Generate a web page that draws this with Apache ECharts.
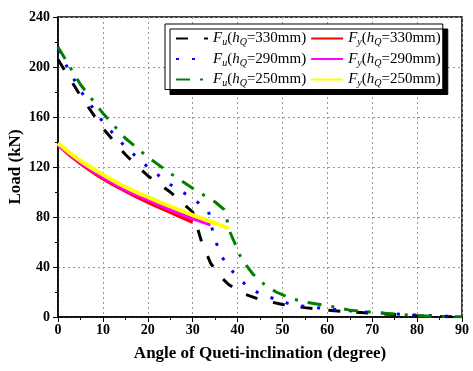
<!DOCTYPE html>
<html>
<head>
<meta charset="utf-8">
<script src="https://cdn.jsdelivr.net/npm/echarts@6/dist/echarts.min.js"></script>
<style>
  html, body { margin: 0; padding: 0; background: #fff; }
  #main { width: 473px; height: 371px; }
</style>
</head>
<body>
<div id="main"></div>
<script>
// depth of the section, mm
var heights = [330, 290, 250];

// Fu : ultimate load (kN) vs angle (degree)
var fuAngles330 = [0, 5, 10, 15, 20, 25, 30, 31, 32, 34, 36, 38, 41, 45, 50, 55, 60, 65, 70, 75, 80, 85, 90];
var fuLoads330  = [206, 177, 151, 130, 113, 100, 84, 72, 60, 43, 33, 26, 19, 14, 10, 7.5, 5.5, 4, 3, 2, 1, 0.5, 0];

var fuAngles290 = [0, 5, 10, 15, 20, 25, 30, 33.5, 34.5, 35.5, 36.5, 39, 42, 45, 49, 52, 55, 60, 65, 70, 75, 80, 85, 90];
var fuLoads290  = [213, 181, 156, 136, 120, 106, 95, 85, 68, 57, 48, 36, 25, 18.5, 13.5, 10, 8.5, 6.5, 5, 3.5, 2.5, 1.5, 0.8, 0.3];

var fuAngles250 = [0, 5, 10, 15, 20, 25, 30, 35, 37, 37.7, 38.3, 39.4, 40.4, 41.8, 43.5, 46, 48.6, 51.7, 55, 60, 65, 70, 75, 80, 85, 90];
var fuLoads250  = [216, 186, 163, 143, 128, 115, 103, 92, 86, 77, 68, 59, 50, 42, 34, 26, 20, 15, 12, 9, 5.5, 3.8, 2.5, 1, 0.5, 0.2];

// Fy : yield load (kN) vs angle (degree)
var fyAngles330 = [0, 5, 10, 15, 20, 25, 30];
var fyLoads330  = [138, 123, 111, 101, 92, 84, 76];

var fyAngles290 = [0, 5, 10, 15, 20, 25, 30, 34];
var fyLoads290  = [138, 124, 112, 102, 94, 86, 79, 74];

var fyAngles250 = [0, 5, 10, 15, 20, 25, 30, 35, 38];
var fyLoads250  = [139, 125, 114, 104, 96, 88.5, 81.5, 75, 71];

var xTicks = { min: 0, max: 90, interval: 10 };
var yTicks = { min: 0, max: 240, interval: 40 };

function pairs(xs, ys) {
    return xs.map(function (x, i) { return [x, ys[i]]; });
}

var serif = 'Liberation Serif';

function fuSeries(h, xs, ys, color, dash) {
    return {
        name: 'Fu' + h, type: 'line', symbol: 'none', smooth: false,
        data: pairs(xs, ys),
        lineStyle: { color: color, width: 3, type: dash },
        itemStyle: { color: color }
    };
}
function fySeries(h, xs, ys, color) {
    return {
        name: 'Fy' + h, type: 'line', symbol: 'none', smooth: true,
        data: pairs(xs, ys),
        lineStyle: { color: color, width: 4 },
        itemStyle: { color: color }
    };
}

var myChart = echarts.init(document.getElementById('main'));

var axisCommon = {
    type: 'value',
    axisLine: { show: true, lineStyle: { color: '#000', width: 1.5 } },
    axisTick: { show: true, length: 5, lineStyle: { color: '#000', width: 1 } },
    minorTick: { show: true, splitNumber: 2, length: 3, lineStyle: { color: '#000', width: 1 } },
    splitLine: { show: true, lineStyle: { color: '#999', width: 1, type: [2, 3] } },
    axisLabel: { color: '#000', fontFamily: serif, fontWeight: 'bold', fontSize: 14 },
    nameTextStyle: { color: '#000', fontFamily: serif, fontWeight: 'bold', fontSize: 17 },
    nameLocation: 'middle',
    nameMoveOverlap: false
};

myChart.setOption({
    animation: false,
    grid: {
        left: 58, right: 11, top: 17, bottom: 54,
        show: true, borderColor: '#000', borderWidth: 1.5,
        outerBoundsMode: 'none'
    },
    legend: {
        orient: 'vertical',
        left: 165, top: 24,
        height: 62,
        padding: [7, 2, 1, 10],
        itemGap: 4,
        itemWidth: 32, itemHeight: 14,
        backgroundColor: '#fff',
        borderColor: '#000', borderWidth: 1,
        shadowColor: '#000', shadowBlur: 0, shadowOffsetX: 5, shadowOffsetY: 5,
        itemStyle: { opacity: 0 },
        data: ['Fu330', 'Fu290', 'Fu250', 'Fy330', 'Fy290', 'Fy250'],
        formatter: function (name) {
            var sub = name.charAt(1), h = name.slice(2);
            return '{it|F}{sub|' + sub + '}{rm|(}{it|h}{sub|Q}{rm|=' + h + 'mm)}';
        },
        textStyle: {
            color: '#000', fontFamily: serif, fontSize: 15,
            rich: {
                it: { fontFamily: serif, fontSize: 15, fontStyle: 'italic', color: '#000' },
                rm: { fontFamily: serif, fontSize: 15, color: '#000' },
                sub: { fontFamily: serif, fontSize: 10, fontStyle: 'italic', color: '#000', padding: [8, 0, 0, 0] }
            }
        }
    },
    xAxis: Object.assign({}, axisCommon, {
        min: xTicks.min, max: xTicks.max, interval: xTicks.interval,
        name: 'Angle of Queti-inclination (degree)', nameGap: 28,
        axisLabel: Object.assign({}, axisCommon.axisLabel, { margin: 6 })
    }),
    yAxis: Object.assign({}, axisCommon, {
        min: yTicks.min, max: yTicks.max, interval: yTicks.interval,
        name: 'Load (kN)', nameGap: 34,
        axisLabel: Object.assign({}, axisCommon.axisLabel, { margin: 8 })
    }),
    series: [
        fuSeries(heights[0], fuAngles330, fuLoads330, '#000000', [12, 16]),
        fuSeries(heights[1], fuAngles290, fuLoads290, '#0000ff', [3, 13]),
        fuSeries(heights[2], fuAngles250, fuLoads250, '#008000', [14, 10, 3, 10]),
        fySeries(heights[0], fyAngles330, fyLoads330, '#ff0000'),
        fySeries(heights[1], fyAngles290, fyLoads290, '#ff00ff'),
        fySeries(heights[2], fyAngles250, fyLoads250, '#ffff00')
    ]
});
</script>
</body>
</html>
